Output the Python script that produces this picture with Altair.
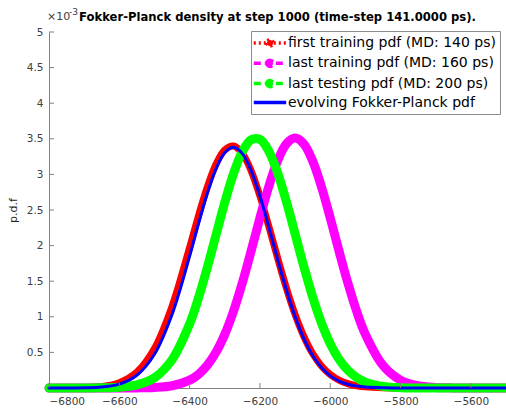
import altair as alt
import pandas as pd

# x grid (same for every series)
x_vals = [-6800, -6750, -6700, -6650, -6600, -6550, -6500, -6450, -6400,
          -6375, -6350, -6325, -6300, -6275, -6250, -6225, -6200, -6175,
          -6150, -6125, -6100, -6075, -6050, -6025,
          -6000, -5975, -5950, -5925, -5900,
          -5850, -5800, -5750, -5700, -5650, -5600, -5550, -5500]

# densities in units of 1e-3
first_train = [0.0001, 0.0009, 0.0047, 0.020, 0.074, 0.222, 0.554, 1.147, 1.973,
               2.414, 2.819, 3.143, 3.345, 3.398, 3.295, 3.051, 2.696, 2.275,
               1.832, 1.409, 1.034, 0.724, 0.484, 0.309,
               0.189, 0.110, 0.061, 0.032, 0.016,
               0.004, 0.001, 0, 0, 0, 0, 0, 0]
last_train = [0, 0, 0, 0, 0.0002, 0.0014, 0.0074, 0.0315, 0.110,
              0.191, 0.317, 0.501, 0.753, 1.080, 1.477, 1.924, 2.389, 2.827,
              3.188, 3.427, 3.510, 3.427, 3.188, 2.827,
              2.389, 1.924, 1.477, 1.080, 0.753,
              0.317, 0.110, 0.0315, 0.0074, 0.0014, 0.0002, 0, 0]
last_test = [0, 0.0001, 0.0004, 0.002, 0.011, 0.043, 0.144, 0.397, 0.901,
             1.263, 1.687, 2.147, 2.606, 3.013, 3.320, 3.487, 3.491, 3.330,
             3.027, 2.623, 2.166, 1.705, 1.279, 0.914,
             0.623, 0.404, 0.250, 0.148, 0.083,
             0.023, 0.005, 0.001, 0.0001, 0, 0, 0, 0]
evolving = [0.0001, 0.0005, 0.003, 0.014, 0.055, 0.179, 0.474, 1.033, 1.851,
            2.303, 2.728, 3.077, 3.305, 3.380, 3.292, 3.053, 2.696, 2.267,
            1.815, 1.384, 1.005, 0.695, 0.457, 0.287,
            0.171, 0.097, 0.053, 0.027, 0.013,
            0.003, 0.0005, 0, 0, 0, 0, 0, 0]

names = ["first training pdf (MD: 140 ps)",
         "last training pdf (MD: 160 ps)",
         "last testing pdf (MD: 200 ps)",
         "evolving Fokker-Planck pdf"]
colors = ["#ff0000", "#ff00ff", "#00ff00", "#0000ff"]
dashes = [[2, 3], [7, 4], [7, 4], [1, 0]]
line_marker = "M-2.7,0L2.7,0M-0.52,0A0.52,0.52,0,1,0,0.52,0A0.52,0.52,0,1,0,-0.52,0Z"
line_only = "M-2.7,0L2.7,0"
legend_shapes = [line_marker, line_marker, line_marker, line_only]
widths = [7, 9, 9, 3]
series = [first_train, last_train, last_test, evolving]

x_ticks = [-6800, -6600, -6400, -6200, -6000, -5800, -5600]
y_ticks = [0.5, 1, 1.5, 2, 2.5, 3, 3.5, 4, 4.5, 5]

rows = []
for n, s in zip(names, series):
    for xv, yv in zip(x_vals, s):
        rows.append({"x": xv, "y": yv, "series": n})
df = pd.DataFrame(rows)

W, H = 457, 356

xscale = alt.Scale(domain=[-6800, -5500], nice=False, zero=False)
yscale = alt.Scale(domain=[0, 5], nice=False, zero=False)
xaxis = alt.Axis(values=x_ticks, title=None, format="d")
yaxis = alt.Axis(values=y_ticks, title="p.d.f", format="~g", labelOverlap=False)

leg = alt.Legend(
    title=None, orient="none", legendX=202, legendY=-1,
    fillColor="white", strokeColor="#8c8c8c", padding=4,
    symbolSize=144, symbolStrokeWidth=3.5, symbolOpacity=1,
    symbolOffset=7, labelOffset=10,
    labelFont="DejaVu Sans", labelFontSize=14, labelColor="#000000",
    rowPadding=-1.7, labelLimit=400,
)
color_scale = alt.Scale(domain=names, range=colors)

xenc = alt.X("x:Q", scale=xscale, axis=xaxis)
yenc = alt.Y("y:Q", scale=yscale, axis=yaxis)
color = alt.Color("series:N", scale=color_scale, legend=leg)

base = alt.Chart(df)
layers = []
for n, w in zip(names, widths):
    layers.append(
        base.transform_filter(alt.datum.series == n)
        .mark_line(strokeWidth=w, strokeCap="round", strokeJoin="round",
                   interpolate="catmull-rom", clip=False)
        .encode(x=xenc, y=yenc, color=color)
    )

# empty layer that only builds the legend (line + marker symbols)
legend_layer = base.transform_filter("false").mark_point(filled=True, opacity=1).encode(
    x=xenc, y=yenc,
    color=color,
    stroke=alt.Stroke("series:N", scale=alt.Scale(domain=names, range=colors), legend=leg),
    shape=alt.Shape("series:N", scale=alt.Scale(domain=names, range=legend_shapes), legend=leg),
    strokeDash=alt.StrokeDash("series:N", scale=alt.Scale(domain=names, range=dashes), legend=leg),
)

xt = pd.DataFrame({"t": x_ticks})
yt = pd.DataFrame({"t": y_ticks})
xtick_rules = alt.Chart(xt).mark_rule(color="#808080", strokeWidth=1).encode(
    x=alt.X("t:Q", scale=xscale, axis=xaxis), y=alt.value(H), y2=alt.value(H - 5))
ytick_rules = alt.Chart(yt).mark_rule(color="#808080", strokeWidth=1).encode(
    y=alt.Y("t:Q", scale=yscale, axis=yaxis), x=alt.value(0), x2=alt.value(5))

exp_df = pd.DataFrame({"txt": ["\u00d710"], "sup": ["-3"]})
exp_base = alt.Chart(exp_df).mark_text(
    font="DejaVu Sans", fontSize=11, color="#404040", align="left", baseline="alphabetic"
).encode(text="txt:N", x=alt.value(-2), y=alt.value(-12))
exp_sup = alt.Chart(exp_df).mark_text(
    font="DejaVu Sans", fontSize=9, color="#404040", align="left", baseline="alphabetic"
).encode(text="sup:N", x=alt.value(20), y=alt.value(-17))

chart = alt.layer(
    *layers, xtick_rules, ytick_rules, legend_layer, exp_base, exp_sup
).properties(
    width=W, height=H,
    title=alt.Title("Fokker-Planck density at step 1000 (time-step 141.0000 ps).",
                    font="DejaVu Sans", fontSize=11.6, fontWeight="bold",
                    color="#000000", anchor="middle", offset=8, dy=24),
    autosize=alt.AutoSizeParams(type="none"),
    padding={"left": 49, "top": 32, "right": 0, "bottom": 20},
).configure_view(stroke=None).configure_axis(
    domainColor="#808080", domainWidth=1, tickSize=0, grid=False,
    labelFont="DejaVu Sans", labelFontSize=10.5, labelColor="#404040",
    titleFont="DejaVu Sans", titleFontSize=11, titleColor="#262626",
    titleFontWeight="normal",
).configure_axisY(labelPadding=6, titlePadding=8, labelOverlap=False
).configure_axisX(labelPadding=8)

chart.save("out.html", embed_options={"renderer": "svg", "actions": False})
